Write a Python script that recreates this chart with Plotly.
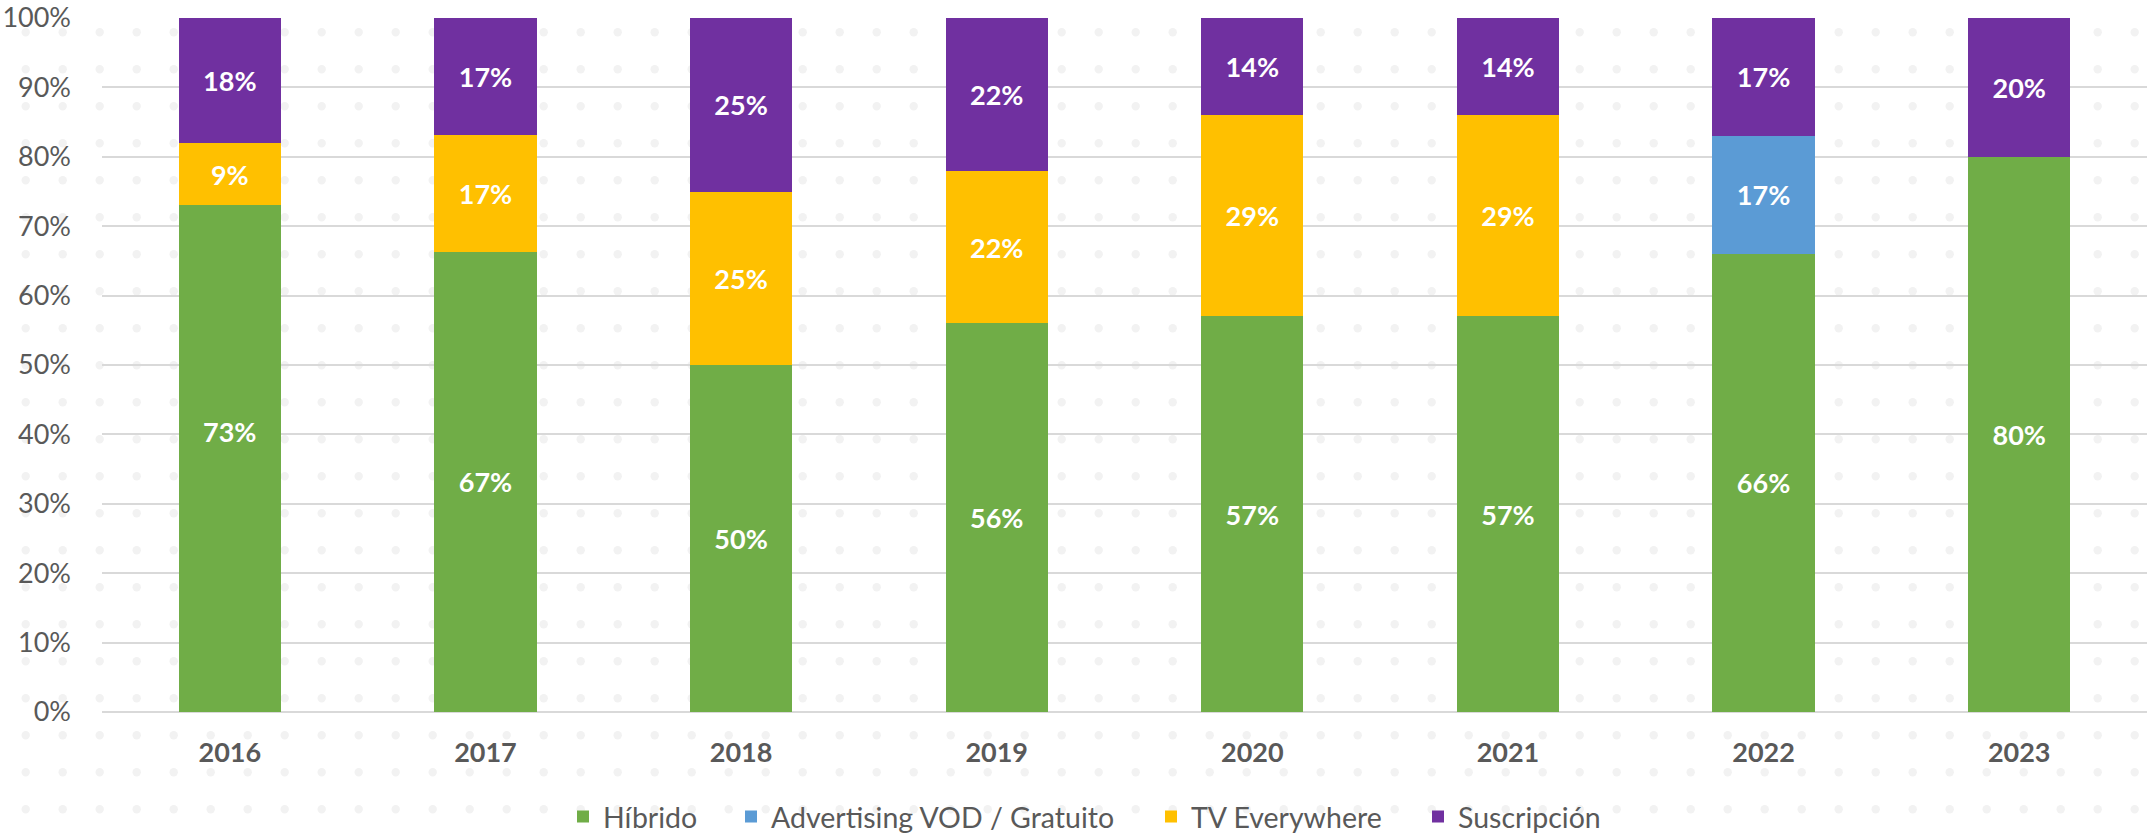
import plotly.graph_objects as go
import numpy as np

years = ["2016", "2017", "2018", "2019", "2020", "2021", "2022", "2023"]
hibrido = [73, 67, 50, 56, 57, 57, 66, 80]
advertising = [None, None, None, None, None, None, 17, None]
tv_everywhere = [9, 17, 25, 22, 29, 29, None, None]
suscripcion = [18, 17, 25, 22, 14, 14, 17, 20]

series = [
    ("Híbrido", hibrido, "#70AD47", "legend"),
    ("Advertising VOD / Gratuito", advertising, "#5B9BD5", "legend2"),
    ("TV Everywhere", tv_everywhere, "#FFC000", "legend3"),
    ("Suscripción", suscripcion, "#7030A0", "legend4"),
]

W, H = 2147, 837
ML, MR, MT, MB = 102, 0, 18, 837 - 712
PW, PH = W - ML - MR, H - MT - MB

FONT = "Lato"
GRAY = "#595959"
LABEL_FONT = dict(family=FONT, size=27, color="white", weight="bold")

# labels moved by hand in the original chart (series, category index) -> vertical shift in px
moved_labels = {("Híbrido", 0): 27}

fig = go.Figure()
for name, vals, color, lg in series:
    texts = []
    for i, v in enumerate(vals):
        if v is None or (name, i) in moved_labels:
            texts.append("")
        else:
            texts.append(f"{v}%")
    fig.add_trace(go.Bar(
        x=years, y=vals, name=name, legend=lg,
        marker=dict(color=color, line=dict(width=0)),
        text=texts,
        textposition="inside", insidetextanchor="middle",
        textangle=0, constraintext="none",
        textfont=LABEL_FONT,
        hoverinfo="skip",
    ))

# annotations for hand-moved labels, positioned from the data
annotations = []
names = [s[0] for s in series]
for (name, i), shift in moved_labels.items():
    idx = names.index(name)
    col = [s[1][i] or 0 for s in series]
    total = sum(col)
    base = sum(col[:idx])
    mid = (base + col[idx] / 2) / total * 100
    annotations.append(dict(x=i, y=mid, xref="x", yref="y",
                            text=f"{series[idx][1][i]}%", showarrow=False,
                            yshift=shift, font=LABEL_FONT))

def px2paper_x(px):
    return (px - ML) / PW

def px2paper_y(py):
    return (MT + PH - py) / PH

# decorative dotted background (page pixel grid)
shapes = []
r = 4.2
for px in np.arange(25.7, W, 37.0):
    for py in np.arange(32.3, H + 5, 37.0):
        shapes.append(dict(type="circle", xref="paper", yref="paper",
                           x0=px2paper_x(px - r), x1=px2paper_x(px + r),
                           y0=px2paper_y(py + r), y1=px2paper_y(py - r),
                           fillcolor="#F2F2F2", line=dict(width=0),
                           layer="below"))

ly = px2paper_y(817)
legend_common = dict(orientation="h", yanchor="middle", y=ly, xanchor="left",
                     bgcolor="rgba(0,0,0,0)",
                     font=dict(family=FONT, size=28.5, color=GRAY))

fig.update_layout(
    width=W, height=H,
    margin=dict(l=ML, r=MR, t=MT, b=MB, autoexpand=False),
    paper_bgcolor="white", plot_bgcolor="rgba(0,0,0,0)",
    barmode="stack", barnorm="percent", bargap=0.6,
    shapes=shapes,
    annotations=annotations,
    showlegend=True,
    legend=dict(x=px2paper_x(573 - 10), **legend_common),
    legend2=dict(x=px2paper_x(741 - 10), **legend_common),
    legend3=dict(x=px2paper_x(1161 - 10), **legend_common),
    legend4=dict(x=px2paper_x(1428 - 10), **legend_common),
    xaxis=dict(type="category", categoryorder="array", categoryarray=years,
               range=[-0.5, len(years) - 0.5],
               showgrid=False, showline=False, zeroline=False,
               ticks="", ticklabelstandoff=22,
               tickfont=dict(family=FONT, size=27, color=GRAY, weight="bold")),
    yaxis=dict(range=[0, 100], dtick=10, ticksuffix="%", showgrid=True,
               gridcolor="#D9D9D9", gridwidth=1.5, zeroline=True,
               zerolinecolor="#D9D9D9", zerolinewidth=1.5, showline=False,
               ticks="", ticklabelstandoff=30, ticklabeloverflow="allow",
               tickfont=dict(family=FONT, size=27, color=GRAY)),
    font=dict(family=FONT, color=GRAY),
)

# remove the browser's default 8px body margin so the figure fills the window
fig.write_html("out.html",
               config={"displayModeBar": False},
               post_script="document.body.style.margin='0';"
                           "document.body.style.overflow='hidden';")
